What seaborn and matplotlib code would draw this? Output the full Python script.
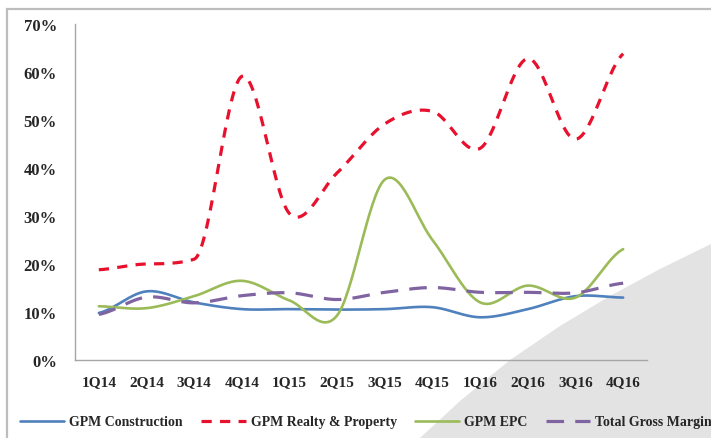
import numpy as np
import pandas as pd
import matplotlib
matplotlib.use("Agg")
import matplotlib.pyplot as plt
from matplotlib.patches import Rectangle, Polygon
import seaborn as sns

quarters = ["1Q14", "2Q14", "3Q14", "4Q14", "1Q15", "2Q15",
            "3Q15", "4Q15", "1Q16", "2Q16", "3Q16", "4Q16"]
gpm_construction = [9.8, 14.3, 12.0, 10.6, 10.6, 10.5, 10.6, 11.0, 8.9, 10.6, 13.3, 13.0]
gpm_realty = [18.8, 20.0, 21.0, 59.1, 30.5, 39.0, 49.2, 51.8, 44.1, 62.8, 46.0, 63.8]
gpm_epc = [11.2, 10.8, 13.3, 16.5, 12.4, 9.3, 37.6, 25.0, 12.0, 15.5, 13.0, 23.1]
total_gross_margin = [9.5, 13.1, 11.9, 13.4, 14.0, 12.6, 14.1, 15.1, 14.1, 14.1, 14.0, 16.0]
y_ticks = [0, 10, 20, 30, 40, 50, 60, 70]

series_names = ["GPM Construction", "GPM Realty & Property", "GPM EPC", "Total Gross Margin"]
series_values = [gpm_construction, gpm_realty, gpm_epc, total_gross_margin]
colors = ["#4F81BD", "#E8112D", "#9BBB59", "#8064A2"]
widths = [1.9, 2.3, 1.9, 2.3]
dash_patterns = [None, (3.2, 2.6), None, (5.5, 3.5)]


def smooth(ys, n=30):
    """Cubic Hermite curve with Catmull-Rom tangents, limited to avoid overshoot
    on monotone stretches."""
    y = np.asarray(ys, dtype=float)
    k = len(y)
    m = np.empty(k)
    m[0] = (y[1] - y[0]) / 2
    m[-1] = (y[-1] - y[-2]) / 2
    m[1:-1] = (y[2:] - y[:-2]) / 2
    for i in range(k - 1):
        d = y[i + 1] - y[i]
        if d == 0:
            continue
        a, b = m[i] / d, m[i + 1] / d
        if a > 0 and b > 0 and a * a + b * b > 9:
            tau = 3 / np.sqrt(a * a + b * b)
            m[i] = tau * a * d
            m[i + 1] = tau * b * d
    xs, out = [], []
    t = np.linspace(0, 1, n, endpoint=False)
    h00 = 2 * t ** 3 - 3 * t ** 2 + 1
    h10 = t ** 3 - 2 * t ** 2 + t
    h01 = -2 * t ** 3 + 3 * t ** 2
    h11 = t ** 3 - t ** 2
    for i in range(k - 1):
        xs.append(i + t)
        out.append(h00 * y[i] + h10 * m[i] + h01 * y[i + 1] + h11 * m[i + 1])
    xs.append([k - 1])
    out.append([y[-1]])
    return np.concatenate(xs), np.concatenate(out)


sns.set_style("white")
plt.rcParams["font.family"] = ["Liberation Serif", "DejaVu Serif"]
plt.rcParams["font.weight"] = "bold"

fig = plt.figure(figsize=(7.11, 4.39), dpi=100)
W, H = 711, 439

# decorative grey sweep in the lower right corner
edge_x = np.array([420, 460, 510, 560, 610, 660, 711, 711])
edge_y = np.array([439, 402, 361, 327, 297, 270, 245, 439])
poly = Polygon(np.column_stack([edge_x / W, 1 - edge_y / H]), closed=True,
               transform=fig.transFigure, facecolor="#E3E3E3", edgecolor="none", zorder=0)
fig.patches.append(poly)

# chart frame
frame = Rectangle((7 / W, -0.2), 1.5, 1.2 - 10 / H, transform=fig.transFigure,
                  facecolor="none", edgecolor="#BDBDBD", linewidth=1.6, zorder=0.5)
fig.patches.append(frame)

ax = fig.add_axes([75 / W, 1 - 361 / H, (647 - 75) / W, (361 - 25) / H])
ax.set_facecolor("none")
ax.set_zorder(1)

for name, vals, col, lw, dp in zip(series_names, series_values, colors, widths, dash_patterns):
    sx, sy = smooth(vals)
    df = pd.DataFrame({"x": sx, "y": sy})
    sns.lineplot(data=df, x="x", y="y", sort=False, estimator=None, color=col,
                 linewidth=lw, ax=ax, label=name)
    line = ax.lines[-1]
    if dp is not None:
        line.set_dashes(dp)
    line.set_solid_capstyle("round")
    line.set_dash_capstyle("butt")

x_idx = np.arange(len(quarters))
ax.set_xlim(-0.5, len(quarters) - 0.5)
ax.set_ylim(0, 70)
ax.set_yticks(y_ticks)
ax.set_yticklabels([f"{v}%" for v in y_ticks])
ax.set_xticks(np.arange(-0.5, len(quarters)), labels=[""] * (len(quarters) + 1))
ax.set_xticks(x_idx, labels=quarters, minor=True)
ax.tick_params(axis="x", which="major", length=6, width=1, color="#A6A6A6", direction="out")
ax.tick_params(axis="x", which="minor", length=0, pad=11, labelsize=11, labelcolor="#262626")
ax.tick_params(axis="y", length=5, width=1, color="#A6A6A6", direction="out",
               labelsize=12, labelcolor="#262626", pad=8)
for lab in ax.get_xticklabels(minor=True) + ax.get_yticklabels():
    lab.set_fontweight("bold")
ax.set_xlabel("")
ax.set_ylabel("")
for side in ["top", "right"]:
    ax.spines[side].set_visible(False)
for side in ["left", "bottom"]:
    ax.spines[side].set_color("#A6A6A6")
    ax.spines[side].set_linewidth(1)

handles, labels = ax.get_legend_handles_labels()
ax.get_legend().remove()
leg = fig.legend(handles, labels, loc="center left", bbox_to_anchor=(20 / W, 1 - 423 / H),
                 ncol=4, frameon=False, handlelength=3.2, handletextpad=0.36,
                 columnspacing=1.3, borderpad=0, borderaxespad=0,
                 prop={"family": ["Liberation Serif"], "weight": "bold", "size": 10})
for t in leg.get_texts():
    t.set_color("#262626")

fig.savefig("out.png", dpi=100)
